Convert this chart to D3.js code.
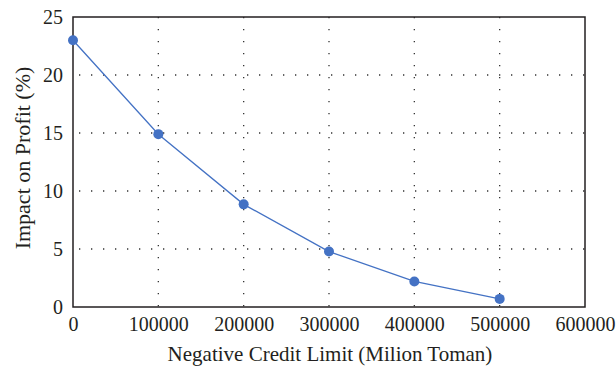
<!DOCTYPE html>
<html>
<head>
<meta charset="utf-8">
<script src="https://cdn.jsdelivr.net/npm/d3@7"></script>
<style>
  body { margin: 0; background: #fff; }
  text { font-family: "Liberation Serif", "DejaVu Serif", serif; fill: #231f20; }
</style>
</head>
<body>
<div id="chart"></div>
<script>
// Chart data
const creditLimits = [0, 100000, 200000, 300000, 400000, 500000];
const profitImpact = [23.0, 14.9, 8.85, 4.78, 2.2, 0.7];
const xTicks = [0, 100000, 200000, 300000, 400000, 500000, 600000];
const yTicks = [0, 5, 10, 15, 20, 25];

const width = 616, height = 368;
const margin = { top: 17, right: 31, bottom: 61, left: 73 };
const innerW = width - margin.left - margin.right;
const innerH = height - margin.top - margin.bottom;

const svg = d3.select('#chart').append('svg')
  .attr('width', width)
  .attr('height', height);

const g = svg.append('g')
  .attr('transform', `translate(${margin.left},${margin.top})`);

const x = d3.scaleLinear().domain([0, 600000]).range([0, innerW]);
const y = d3.scaleLinear().domain([0, 25]).range([innerH, 0]);

// Dotted grid (inner lines only)
g.selectAll('.vgrid')
  .data(xTicks.slice(1, -1))
  .join('line')
  .attr('x1', d => x(d)).attr('x2', d => x(d))
  .attr('y1', 0).attr('y2', innerH)
  .attr('stroke', '#333')
  .attr('stroke-width', 1.3)
  .attr('stroke-dasharray', '1.3,10.7');

g.selectAll('.hgrid')
  .data(yTicks.slice(1, -1))
  .join('line')
  .attr('x1', 0).attr('x2', innerW)
  .attr('y1', d => y(d)).attr('y2', d => y(d))
  .attr('stroke', '#333')
  .attr('stroke-width', 1.3)
  .attr('stroke-dasharray', '1.3,10.7')
  .attr('stroke-dashoffset', -6);

// Frame
g.append('rect')
  .attr('x', 0).attr('y', 0)
  .attr('width', innerW).attr('height', innerH)
  .attr('fill', 'none')
  .attr('stroke', '#231f20')
  .attr('stroke-width', 1.5);

// Axes (labels only, no tick marks)
const xAxis = d3.axisBottom(x).tickValues(xTicks).tickFormat(d3.format('d')).tickSize(0).tickPadding(10);
const yAxis = d3.axisLeft(y).tickValues(yTicks).tickSize(0).tickPadding(10);

g.append('g')
  .attr('transform', `translate(0,${innerH})`)
  .call(xAxis)
  .call(a => a.select('.domain').remove())
  .selectAll('text')
  .attr('font-size', 20)
  .attr('font-family', '"Liberation Serif", serif')
  .attr('fill', '#231f20');

g.append('g')
  .call(yAxis)
  .call(a => a.select('.domain').remove())
  .selectAll('text')
  .attr('font-size', 20)
  .attr('font-family', '"Liberation Serif", serif')
  .attr('fill', '#231f20');

// Line + points
const line = d3.line()
  .x((d, i) => x(creditLimits[i]))
  .y(d => y(d));

g.append('path')
  .datum(profitImpact)
  .attr('d', line)
  .attr('fill', 'none')
  .attr('stroke', '#4472c4')
  .attr('stroke-width', 1.3);

g.selectAll('.pt')
  .data(profitImpact)
  .join('circle')
  .attr('cx', (d, i) => x(creditLimits[i]))
  .attr('cy', d => y(d))
  .attr('r', 5)
  .attr('fill', '#4472c4');

// Axis titles
svg.append('text')
  .attr('x', 330)
  .attr('y', 361)
  .attr('text-anchor', 'middle')
  .attr('font-size', 21)
  .text('Negative Credit Limit (Milion Toman)');

svg.append('text')
  .attr('transform', `translate(30,158) rotate(-90)`)
  .attr('text-anchor', 'middle')
  .attr('font-size', 22)
  .text('Impact on Profit (%)');
</script>
</body>
</html>
